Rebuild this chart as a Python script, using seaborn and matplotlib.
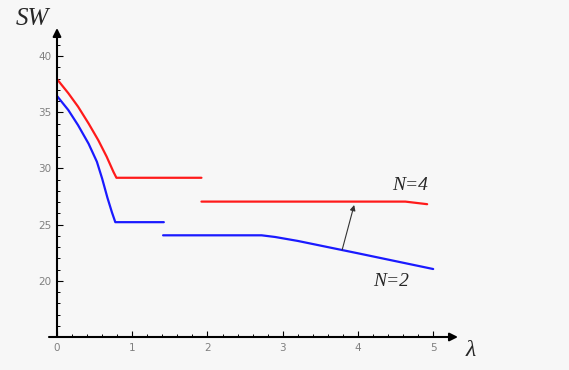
import numpy as np
import pandas as pd
import seaborn as sns
import matplotlib.pyplot as plt

# SW contra lambda, N=2 (azul) e N=4 (vermelho)

red_x1 = [0, 0.15, 0.28, 0.42, 0.55, 0.66, 0.75, 0.79, 1.92]
red_y1 = [37.95, 36.7, 35.5, 34.0, 32.5, 31.05, 29.7, 29.17, 29.17]
red_x2 = [1.92, 4.63, 4.92]
red_y2 = [27.05, 27.05, 26.82]

blue_x1 = [0, 0.15, 0.28, 0.42, 0.53, 0.6, 0.67, 0.73, 0.775, 1.42]
blue_y1 = [36.45, 35.2, 33.85, 32.2, 30.6, 29.1, 27.4, 26.1, 25.22, 25.22]
blue_x2 = [1.41, 2.72, 2.9, 3.2, 3.6, 4.0, 4.5, 5.0]
blue_y2 = [24.05, 24.05, 23.9, 23.55, 23.0, 22.45, 21.75, 21.05]

x_ticks = [0, 1, 2, 3, 4, 5]
y_ticks = [20, 25, 30, 35, 40]

sns.set_theme(style="white")
bg = "#f7f7f7"

fig = plt.figure(figsize=(5.69, 3.70), dpi=100, facecolor=bg)
ax = fig.add_axes([57 / 569, 33 / 370, 401 / 569, 309 / 370], facecolor=bg)

segmentos = [(red_x1, red_y1, "#ff1a1a"), (red_x2, red_y2, "#ff1a1a"),
             (blue_x1, blue_y1, "#1a1aff"), (blue_x2, blue_y2, "#1a1aff")]
for xs, ys, cor in segmentos:
    sns.lineplot(x=xs, y=ys, color=cor, linewidth=1.6, sort=False,
                 estimator=None, ax=ax)

ax.set_xlim(0, 5.33)
ax.set_ylim(15, 42.5)
for s in ax.spines.values():
    s.set_visible(False)

ax.set_xticks(x_ticks)
ax.set_xticks(np.arange(0, 5.01, 0.2), minor=True)
ax.set_yticks(y_ticks)
ax.set_yticks(np.arange(15, 42, 1), minor=True)
ax.tick_params(which="major", direction="in", length=4, width=0.8,
               color="black", labelsize=7.5, labelcolor="#808080",
               bottom=True, left=True, pad=4)
ax.tick_params(which="minor", direction="in", length=2.5, width=0.7,
               color="black", bottom=True, left=True)

# eixos com setas
ax.annotate("", xy=(1, 0), xytext=(-0.02, 0), xycoords="axes fraction",
            arrowprops=dict(arrowstyle="-|>", color="black", lw=1.5,
                            mutation_scale=12, shrinkA=0, shrinkB=0))
ax.annotate("", xy=(0, 1), xytext=(0, 0), xycoords="axes fraction",
            arrowprops=dict(arrowstyle="-|>", color="black", lw=1.5,
                            mutation_scale=12, shrinkA=0, shrinkB=0))

# seta entre as curvas
ax.annotate("", xy=(3.95, 26.75), xytext=(3.79, 22.75),
            arrowprops=dict(arrowstyle="-|>", color="#333333", lw=0.8,
                            mutation_scale=8, shrinkA=0, shrinkB=0))

serif = "Liberation Serif"
fig.text(32 / 569, 1 - 19 / 370, "SW", fontsize=18, family=serif,
         style="italic", ha="center", va="center")
fig.text(471 / 569, 1 - 351 / 370, "λ", fontsize=17, family=serif,
         style="italic", ha="center", va="center")
fig.text(410 / 569, 1 - 185.5 / 370, "N=4", fontsize=14, family=serif,
         style="italic", ha="center", va="center")
fig.text(391 / 569, 1 - 282 / 370, "N=2", fontsize=14, family=serif,
         style="italic", ha="center", va="center")

plt.savefig("out.png", dpi=100, facecolor=bg)
